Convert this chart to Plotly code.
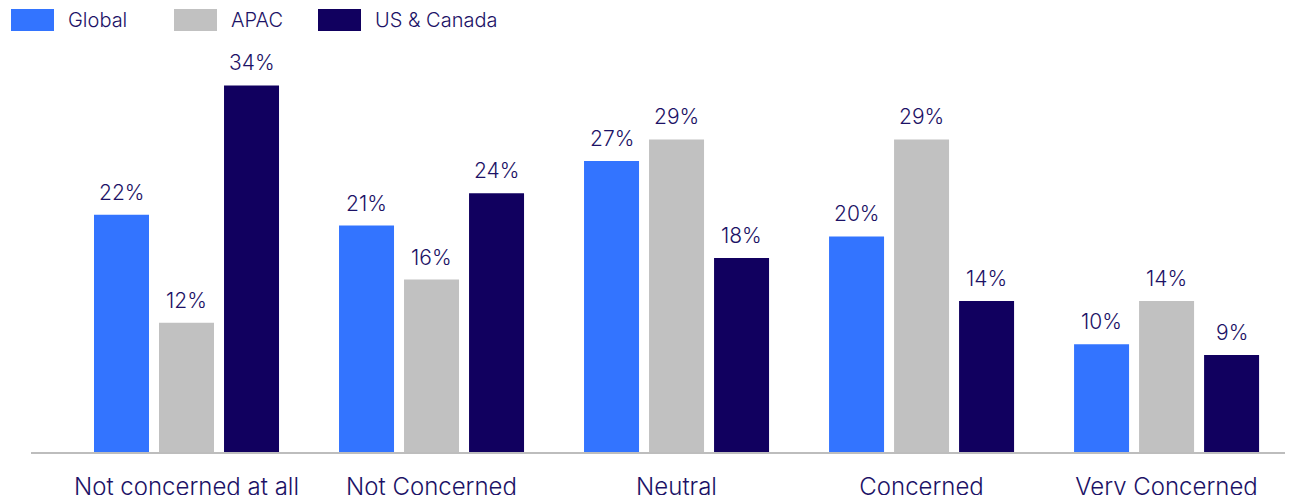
import plotly.graph_objects as go

categories = ["Not concerned at all", "Not Concerned", "Neutral", "Concerned", "Very Concerned"]
series_names = ["Global", "APAC", "US & Canada"]
global_vals = [22, 21, 27, 20, 10]
apac_vals = [12, 16, 29, 29, 14]
us_vals = [34, 24, 18, 14, 9]
series_values = [global_vals, apac_vals, us_vals]
colors = ["#3374FF", "#C1C1C1", "#11005F"]
text_color = "#1C1266"
FONT = "Inter"

# page body has an 8px margin; size the figure so it fills the window
OFF = 8
W, H = 1293 - OFF, 495 - OFF
ML, MR, MT, MB = 31 - OFF, 0, 40 - OFF, 43
BARGAP = 0.204
GROUPGAP = 0.154

fig = go.Figure()
for name, vals, col in zip(series_names, series_values, colors):
    fig.add_trace(go.Bar(
        x=categories, y=vals, name=name, marker_color=col,
        marker_line_width=0, showlegend=False,
    ))

# value labels above bars
slot = (1 - BARGAP) / len(series_names)
annotations = []
for j, vals in enumerate(series_values):
    for i, v in enumerate(vals):
        annotations.append(dict(
            x=i + (j - (len(series_names) - 1) / 2) * slot, y=v,
            xref="x", yref="y", text=f"{v}%", showarrow=False,
            yanchor="bottom", yshift=8,
            font=dict(family=FONT, size=21, color=text_color, weight=300),
        ))

# custom legend (large swatches); pixel positions measured in the window
pw = W - ML - MR
ph = H - MT - MB
def px_x(p):
    return (p - OFF - ML) / pw
def px_y(p):
    return (H - MB - (p - OFF)) / ph

legend_sw_x = [11, 174, 318]
shapes = []
for name, col, sx in zip(series_names, colors, legend_sw_x):
    shapes.append(dict(type="rect", xref="paper", yref="paper",
                       x0=px_x(sx), x1=px_x(sx + 43), y0=px_y(31), y1=px_y(9),
                       fillcolor=col, line_width=0))
    annotations.append(dict(x=px_x(sx + 55), y=px_y(20), xref="paper", yref="paper",
                            text=name, showarrow=False, xanchor="left", yanchor="middle",
                            font=dict(family=FONT, size=20, color=text_color, weight=300)))

fig.update_layout(
    width=W, height=H,
    margin=dict(l=ML, r=MR, t=MT, b=MB, autoexpand=False),
    barmode="group", bargap=BARGAP, bargroupgap=GROUPGAP,
    plot_bgcolor="white", paper_bgcolor="white",
    font=dict(family=FONT, color=text_color),
    annotations=annotations, shapes=shapes,
)
fig.update_xaxes(
    range=[-0.6347, 4.516], showgrid=False, showline=True, linecolor="#BDBDBD",
    linewidth=2, ticks="", tickfont=dict(family=FONT, size=24, color=text_color, weight=300),
    ticklabelstandoff=12, automargin=False,
)
fig.update_yaxes(range=[0, (H - MT - MB) / 10.78], visible=False, showgrid=False,
                 automargin=False)

fig.write_html("out.html")
